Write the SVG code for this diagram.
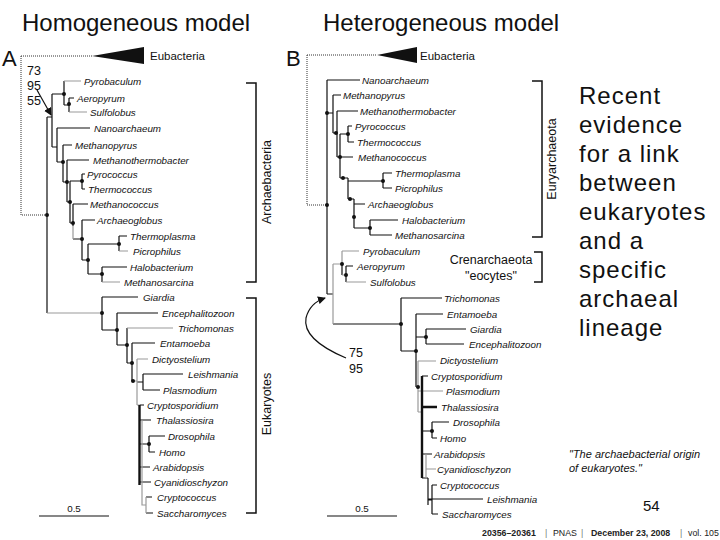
<svg xmlns="http://www.w3.org/2000/svg" width="720" height="540" viewBox="0 0 720 540">
<defs>
<style>
text{font-family:"Liberation Sans",Arial,sans-serif;fill:#111}
.title{font-size:24px}
.panel{font-size:22px}
.eub{font-size:11.5px}
.lf{font-size:9.8px;font-style:italic}
.num{font-size:12.5px}
.brk{font-size:12.5px}
.big{font-size:24px;letter-spacing:1px}
.quote{font-size:11px;font-style:italic}
.foot{font-size:8.8px;fill:#222}
.b{fill:none;stroke:#111;stroke-width:1.2}
.g{fill:none;stroke:#9a9a9a;stroke-width:1.2}
.tb{fill:none;stroke:#111;stroke-width:2.4}
.dot{fill:none;stroke:#333;stroke-width:1;stroke-dasharray:1 1}
.br{fill:none;stroke:#111;stroke-width:1.5}
.nd{fill:#111}
</style>
<marker id="ah" markerWidth="8" markerHeight="8" refX="7" refY="4" orient="auto" markerUnits="userSpaceOnUse">
<path d="M0,0 L8,4 L0,8 z" fill="#111"/>
</marker>
</defs>
<rect width="720" height="540" fill="#fff"/>

<g id="titles">
<text class="title" x="22" y="31">Homogeneous model</text>
<text class="title" x="323" y="31">Heterogeneous model</text>
<text class="panel" x="2" y="66">A</text>
<text class="panel" x="286" y="66">B</text>
</g>

<g id="eubacteria-A">
<path class="dot" d="M21,56 H92 M21,56 V215 H47"/>
<polygon points="92,56 144,47 144,64" fill="#111"/>
<text class="eub" x="150" y="60">Eubacteria</text>
</g>
<g id="eubacteria-B">
<path class="dot" d="M307,55 H377 M307,55 V205 H327"/>
<polygon points="377,55 417,47 417,63" fill="#111"/>
<text class="eub" x="420" y="60">Eubacteria</text>
</g>

<g id="connectors">
<!-- Tree A -->
<path class="b" d="M47,117 V313 M47,117 H52 M52,94 V147 M52,94 H64 M64,81 V105 M64,105 H69 M69,98 V112 M69,98 H74
M52,147 H57 M57,128 V162 M57,128 H90 M57,162 H63 M63,145 V182 M63,145 H72 M63,182 H67 M67,160 V202 M67,160 H89
M67,202 H70 M70,181 V223 M70,181 H82 M82,174 V189 M82,174 H85 M82,189 H85 M70,223 H73 M73,204 V226 M73,204 H88
M73,239 H82 M82,220 V260 M82,220 H95 M82,260 H88 M88,244 V274 M88,244 H119 M119,236 V251 M119,236 H127
M88,274 H102 M102,267 V282 M102,267 H127"/>
<path class="g" d="M64,81 H81 M69,112 H87 M73,226 V239 M119,251 H128 M102,282 H120 M47,313 H102"/>
<path class="b" d="M102,297 V330 M102,297 H138 M102,330 H117 M117,313 V345 M117,313 H158 M117,345 H127 M127,328 V363
M127,363 H132 M132,343 V381 M132,343 H155 M137,382 H143 M143,374 V390 M143,374 H183 M143,390 H160
M140,405 H144 M140,420 H151 M140,444 H149 M149,436 V452 M149,436 H165 M149,452 H155 M140,467 H150 M140,482 H151
M146,497 H152 M146,513 H153"/>
<path class="g" d="M127,328 H173 M132,381 H137 M137,359 V405 M137,359 H148 M137,405 H140 M142,485 V505 H146 M146,497 V513"/>
<path class="tb" d="M139.5,405 V485"/>
<path class="g" d="M142,420 V485"/>
<path class="b" d="M37,90 L51,115" marker-end="url(#ah)"/>

<!-- Tree B -->
<path class="b" d="M327,80 V294 M327,80 H360 M327,113 H333 M333,95 V133 M333,95 H341 M333,133 H337 M337,111 V157 M337,111 H358
M337,157 H353 M340,134 V178 M340,134 H348 M348,126 V142 M348,126 H352 M348,142 H354 M340,178 H348 M348,178 V199 M348,181 H383
M383,173 V188 M383,173 H392 M383,188 H392 M348,199 H354 M354,199 V228 M354,204 H365 M354,228 H370 M370,220 V235 M370,220 H398 M370,235 H392
M327,294 H333 M342,264 V275 M346,266 V282 M346,266 H353 M333,324 H401"/>
<path class="g" d="M333,264 V324 M333,264 H342 M342,251 V264 M342,251 H359 M342,275 H346 M346,282 H366"/>
<path class="b" d="M401,298 V351 M401,298 H442 M401,351 H416 M416,314 V387 M416,314 H443 M416,337 H426 M426,329 V344 M426,329 H466 M426,344 H464
M422,376 H428 M422,431 H432 M432,422 V438 M432,422 H449 M432,438 H437 M422,454 H432 M422,478 H428 M428,478 V505 M428,499 H483
M428,500 H432 M432,485 V514 M432,485 H437 M432,514 H438"/>
<path class="g" d="M416,387 H418 M418,361 V412 M418,361 H436 M418,391 H443 M418,412 H422 M426,454 V478 M426,469 H436"/>
<path class="tb" d="M422,376 V478 M422,407 H437"/>
<path class="b" d="M346,358 C320,347 303,334 306,318 C309,306 316,301 325,298" marker-end="url(#ah)"/>

<!-- brackets -->
<path class="br" d="M246,83 H256 V282 H246 M246,298 H256 V513 H246 M532,81 H542 V237 H532 M534,252 H542 V282 H534"/>
<!-- scale bars -->
<path class="b" d="M39,516 H109 M327,516 H397"/>
</g>

<g id="nodes-dots">
<circle class="nd" cx="64" cy="94" r="2"/><circle class="nd" cx="69" cy="104" r="2"/><circle class="nd" cx="47" cy="215" r="2"/>
<circle class="nd" cx="63" cy="162" r="2"/><circle class="nd" cx="67" cy="182" r="2"/><circle class="nd" cx="70" cy="202" r="2"/>
<circle class="nd" cx="82" cy="181" r="2"/><circle class="nd" cx="73" cy="223" r="2"/><circle class="nd" cx="82" cy="239" r="2"/>
<circle class="nd" cx="88" cy="260" r="2"/><circle class="nd" cx="119" cy="244" r="2"/><circle class="nd" cx="102" cy="274" r="2"/>
<circle class="nd" cx="102" cy="313" r="2"/><circle class="nd" cx="117" cy="330" r="2"/><circle class="nd" cx="127" cy="345" r="2"/>
<circle class="nd" cx="132" cy="363" r="2"/><circle class="nd" cx="133" cy="381" r="2"/><circle class="nd" cx="149" cy="444" r="2"/>
<circle class="nd" cx="327" cy="113" r="2"/><circle class="nd" cx="327" cy="205" r="2"/><circle class="nd" cx="336" cy="133" r="2"/>
<circle class="nd" cx="340" cy="157" r="2"/><circle class="nd" cx="348" cy="134" r="2"/><circle class="nd" cx="343" cy="178" r="2"/>
<circle class="nd" cx="383" cy="181" r="2"/><circle class="nd" cx="350" cy="199" r="2"/><circle class="nd" cx="354" cy="217" r="2"/>
<circle class="nd" cx="370" cy="228" r="2"/><circle class="nd" cx="342" cy="264" r="2"/><circle class="nd" cx="346" cy="275" r="2"/>
<circle class="nd" cx="401" cy="324" r="2"/><circle class="nd" cx="416" cy="351" r="2"/><circle class="nd" cx="426" cy="337" r="2"/>
<circle class="nd" cx="418" cy="387" r="2"/><circle class="nd" cx="432" cy="431" r="2"/>
</g>

<g id="support-A"><text class="num" x="27" y="75">73</text><text class="num" x="27" y="90">95</text><text class="num" x="27" y="105">55</text></g>
<g id="support-B"><text class="num" x="349" y="357">75</text><text class="num" x="349" y="373">95</text></g>

<g id="tree-A-leaves">
<g id="a-pyrobaculum"><text class="lf" x="84" y="84.5">Pyrobaculum</text></g>
<g id="a-aeropyrum"><text class="lf" x="77" y="101.5">Aeropyrum</text></g>
<g id="a-sulfolobus"><text class="lf" x="90" y="115.5">Sulfolobus</text></g>
<g id="a-nanoarchaeum"><text class="lf" x="94" y="131.5">Nanoarchaeum</text></g>
<g id="a-methanopyrus"><text class="lf" x="75" y="148.5">Methanopyrus</text></g>
<g id="a-methanothermobacter"><text class="lf" x="93" y="163.5">Methanothermobacter</text></g>
<g id="a-pyrococcus"><text class="lf" x="87" y="177.5">Pyrococcus</text></g>
<g id="a-thermococcus"><text class="lf" x="88" y="192.5">Thermococcus</text></g>
<g id="a-methanococcus"><text class="lf" x="90" y="207.5">Methanococcus</text></g>
<g id="a-archaeoglobus"><text class="lf" x="97" y="223.5">Archaeoglobus</text></g>
<g id="a-thermoplasma"><text class="lf" x="130" y="239.5">Thermoplasma</text></g>
<g id="a-picrophilus"><text class="lf" x="133" y="254.5">Picrophilus</text></g>
<g id="a-halobacterium"><text class="lf" x="130" y="270.5">Halobacterium</text></g>
<g id="a-methanosarcina"><text class="lf" x="124" y="285.5">Methanosarcina</text></g>
<g id="a-giardia"><text class="lf" x="143" y="300.5">Giardia</text></g>
<g id="a-encephalitozoon"><text class="lf" x="162" y="316.5">Encephalitozoon</text></g>
<g id="a-trichomonas"><text class="lf" x="178" y="331.5">Trichomonas</text></g>
<g id="a-entamoeba"><text class="lf" x="160" y="346.5">Entamoeba</text></g>
<g id="a-dictyostelium"><text class="lf" x="152" y="362.5">Dictyostelium</text></g>
<g id="a-leishmania"><text class="lf" x="188" y="377.5">Leishmania</text></g>
<g id="a-plasmodium"><text class="lf" x="163" y="393.5">Plasmodium</text></g>
<g id="a-cryptosporidium"><text class="lf" x="147" y="408.5">Cryptosporidium</text></g>
<g id="a-thalassiosira"><text class="lf" x="156" y="423.5">Thalassiosira</text></g>
<g id="a-drosophila"><text class="lf" x="168" y="439.5">Drosophila</text></g>
<g id="a-homo"><text class="lf" x="159" y="455.5">Homo</text></g>
<g id="a-arabidopsis"><text class="lf" x="153" y="470.5">Arabidopsis</text></g>
<g id="a-cyanidioschyzon"><text class="lf" x="154" y="485.5">Cyanidioschyzon</text></g>
<g id="a-cryptococcus"><text class="lf" x="157" y="500.5">Cryptococcus</text></g>
<g id="a-saccharomyces"><text class="lf" x="157" y="516.5">Saccharomyces</text></g>
</g>

<g id="tree-B-leaves">
<g id="b-nanoarchaeum"><text class="lf" x="362" y="83.5">Nanoarchaeum</text></g>
<g id="b-methanopyrus"><text class="lf" x="343" y="98.5">Methanopyrus</text></g>
<g id="b-methanothermobacter"><text class="lf" x="360" y="114.5">Methanothermobacter</text></g>
<g id="b-pyrococcus"><text class="lf" x="355" y="129.5">Pyrococcus</text></g>
<g id="b-thermococcus"><text class="lf" x="357" y="145.5">Thermococcus</text></g>
<g id="b-methanococcus"><text class="lf" x="358" y="160.5">Methanococcus</text></g>
<g id="b-thermoplasma"><text class="lf" x="395" y="176.5">Thermoplasma</text></g>
<g id="b-picrophilus"><text class="lf" x="395" y="191.5">Picrophilus</text></g>
<g id="b-archaeoglobus"><text class="lf" x="368" y="207.5">Archaeoglobus</text></g>
<g id="b-halobacterium"><text class="lf" x="402" y="223.5">Halobacterium</text></g>
<g id="b-methanosarcina"><text class="lf" x="395" y="238.5">Methanosarcina</text></g>
<g id="b-pyrobaculum"><text class="lf" x="363" y="254.5">Pyrobaculum</text></g>
<g id="b-aeropyrum"><text class="lf" x="357" y="269.5">Aeropyrum</text></g>
<g id="b-sulfolobus"><text class="lf" x="370" y="285.5">Sulfolobus</text></g>
<g id="b-trichomonas"><text class="lf" x="444" y="301.5">Trichomonas</text></g>
<g id="b-entamoeba"><text class="lf" x="447" y="317.5">Entamoeba</text></g>
<g id="b-giardia"><text class="lf" x="470" y="332.5">Giardia</text></g>
<g id="b-encephalitozoon"><text class="lf" x="469" y="347.5">Encephalitozoon</text></g>
<g id="b-dictyostelium"><text class="lf" x="440" y="363.5">Dictyostelium</text></g>
<g id="b-cryptosporidium"><text class="lf" x="431" y="379.5">Cryptosporidium</text></g>
<g id="b-plasmodium"><text class="lf" x="446" y="394.5">Plasmodium</text></g>
<g id="b-thalassiosira"><text class="lf" x="441" y="410.5">Thalassiosira</text></g>
<g id="b-drosophila"><text class="lf" x="453" y="425.5">Drosophila</text></g>
<g id="b-homo"><text class="lf" x="440" y="441.5">Homo</text></g>
<g id="b-arabidopsis"><text class="lf" x="434" y="457.5">Arabidopsis</text></g>
<g id="b-cyanidioschyzon"><text class="lf" x="437" y="472.5">Cyanidioschyzon</text></g>
<g id="b-cryptococcus"><text class="lf" x="440" y="488.5">Cryptococcus</text></g>
<g id="b-leishmania"><text class="lf" x="487" y="502.5">Leishmania</text></g>
<g id="b-saccharomyces"><text class="lf" x="442" y="517.5">Saccharomyces</text></g>
</g>

<g id="clade-labels">
<text class="brk" transform="translate(271,182) rotate(-90)" text-anchor="middle">Archaebacteria</text>
<text class="brk" transform="translate(271,404) rotate(-90)" text-anchor="middle">Eukaryotes</text>
<text class="brk" transform="translate(556,159) rotate(-90)" text-anchor="middle">Euryarchaeota</text>
<text class="brk" x="491" y="264" text-anchor="middle">Crenarchaeota</text>
<text class="brk" x="491" y="280" text-anchor="middle">"eocytes"</text>
</g>

<g id="scale-labels">
<text class="lf" style="font-style:normal" x="74" y="512" text-anchor="middle">0.5</text>
<text class="lf" style="font-style:normal" x="362" y="512" text-anchor="middle">0.5</text>
</g>

<g id="side-text">
<text class="big" x="579" y="104">Recent</text>
<text class="big" x="579" y="133">evidence</text>
<text class="big" x="579" y="162">for a link</text>
<text class="big" x="579" y="191">between</text>
<text class="big" x="579" y="220">eukaryotes</text>
<text class="big" x="579" y="249">and a</text>
<text class="big" x="579" y="278">specific</text>
<text class="big" x="579" y="307">archaeal</text>
<text class="big" x="579" y="336">lineage</text>
</g>

<g id="citation">
<text class="quote" x="569" y="458">"The archaebacterial origin</text>
<text class="quote" x="569" y="472">of eukaryotes."</text>
</g>

<g id="page-number"><text x="643" y="511" style="font-size:15px">54</text></g>

<g id="footer">
<text class="foot" y="536"><tspan x="482" font-weight="bold">20356–20361</tspan><tspan x="545" fill="#777">|</tspan><tspan x="553">PNAS</tspan><tspan x="581" fill="#777">|</tspan><tspan x="591" font-weight="bold">December 23, 2008</tspan><tspan x="680" fill="#777">|</tspan><tspan x="688">vol. 105</tspan></text>
</g>
</svg>
